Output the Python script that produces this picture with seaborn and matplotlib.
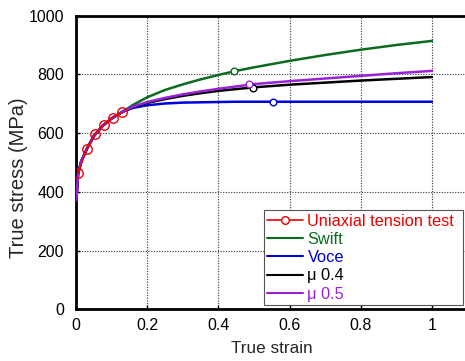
import matplotlib
matplotlib.use("Agg")
import matplotlib.pyplot as plt
import numpy as np
import pandas as pd
import seaborn as sns
from matplotlib.lines import Line2D

# uniaxial tension test points
test_strain = [0.006, 0.030, 0.053, 0.078, 0.103, 0.128]
test_stress = [463, 545, 596, 628, 653, 672]

# model curves
strain = [0.001, 0.006, 0.015, 0.03, 0.05, 0.075, 0.10, 0.13, 0.16, 0.20, 0.25,
          0.30, 0.35, 0.40, 0.45, 0.50, 0.60, 0.70, 0.80, 0.90, 1.00]
swift = [372, 463, 505, 545, 590, 625, 650, 672, 696, 722, 747,
         766, 783, 798, 812, 824, 846, 866, 884, 900, 914]
voce = [372, 463, 505, 545, 590, 625, 650, 672, 686, 695, 701,
        704, 705, 706, 707, 707, 707, 707, 707, 707, 707]
mu04 = [372, 463, 505, 545, 590, 625, 650, 672, 689, 703, 716,
        727, 736, 744, 750, 756, 765, 772, 779, 785, 791]
mu05 = [372, 463, 505, 545, 590, 625, 650, 672, 690, 706, 720,
        732, 742, 751, 759, 767, 777, 786, 795, 804, 812]

# single marker on each model curve
mark_strain = [0.444, 0.554, 0.496, 0.486]
mark_stress = [812, 707, 755, 766]

names = ["Swift", "Voce", "μ 0.4", "μ 0.5"]
colors = ["#0b6b1e", "#0000dd", "#000000", "#9b20d9"]
red = "#ee0000"

sns.set_style("white")
plt.rcParams["font.family"] = ["Liberation Sans", "DejaVu Sans"]

fig = plt.figure(figsize=(4.65, 3.61), dpi=100)
ax = fig.add_axes([0.1634, 0.1427, 0.842, 0.814])

curves = pd.DataFrame({"strain": strain * 4,
                       "stress": swift + voce + mu04 + mu05,
                       "model": np.repeat(names, len(strain))})
sns.lineplot(data=curves, x="strain", y="stress", hue="model",
             palette=dict(zip(names, colors)), linewidth=1.8,
             sort=False, legend=False, ax=ax, zorder=3)

for xs, ys, c in zip(mark_strain, mark_stress, colors):
    ax.plot(xs, ys, "o", ms=4.8, mfc="white", mec=c, mew=1.0, zorder=5)

test = pd.DataFrame({"strain": test_strain, "stress": test_stress})
sns.lineplot(data=test, x="strain", y="stress", color=red, linewidth=0.9,
             marker="o", markersize=6.8, markerfacecolor="none",
             markeredgecolor=red, markeredgewidth=1.0, ax=ax, zorder=6)

ax.set_xlim(0, 1.1)
ax.set_ylim(0, 1000)
ax.set_xticks([0, 0.2, 0.4, 0.6, 0.8, 1.0])
ax.set_xticklabels(["0", "0.2", "0.4", "0.6", "0.8", "1"])
ax.set_yticks([0, 200, 400, 600, 800, 1000])
ax.grid(True, linestyle=(0, (1, 1.4)), color="#333333", linewidth=0.8)
ax.set_axisbelow(True)
ax.tick_params(direction="in", length=3, width=1, labelsize=11.5,
               colors="black", bottom=True, left=True)
ax.tick_params(axis="x", pad=6)
ax.tick_params(axis="y", pad=8.5)
for s in ax.spines.values():
    s.set_linewidth(2)
    s.set_color("black")
ax.set_xlabel("True strain", fontsize=12.3, va="center")
ax.xaxis.set_label_coords(0.5, -0.134)
ax.set_ylabel("True stress (MPa)", fontsize=14.5, va="center")
ax.yaxis.set_label_coords(-0.147, 0.449)

handles = [Line2D([], [], color=red, lw=1.2, marker="o", ms=5.5,
                  mfc="white", mec=red)]
handles += [Line2D([], [], color=c, lw=1.5) for c in colors]
labels = ["Uniaxial tension test"] + names
leg = ax.legend(handles, labels, loc="lower left",
                bbox_to_anchor=(264 / 465, 56 / 361, 199 / 465, 98 / 361),
                bbox_transform=fig.transFigure, mode="expand",
                fontsize=11.8, frameon=True, fancybox=False,
                edgecolor="#555555", framealpha=1, borderpad=0.2,
                labelspacing=0.2, handlelength=2.2, handletextpad=0.25,
                borderaxespad=0)
leg.get_frame().set_linewidth(0.8)
for t, c in zip(leg.get_texts(), [red] + colors):
    t.set_color(c)

fig.savefig("out.png", dpi=100)
